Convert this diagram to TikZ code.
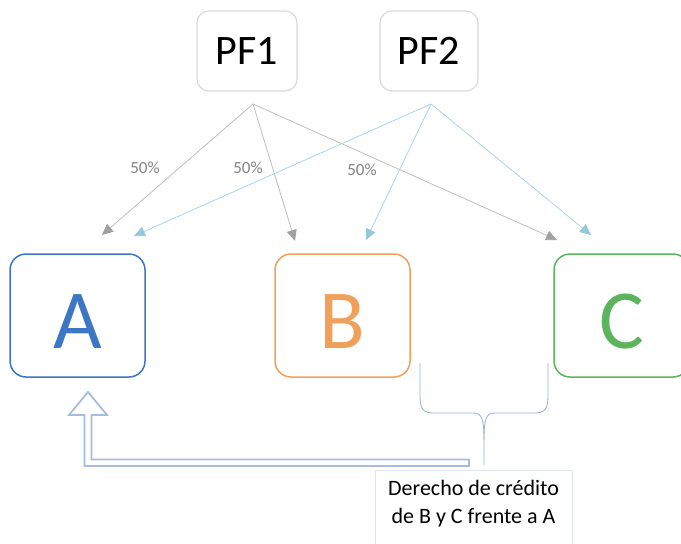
\documentclass[tikz,border=0pt]{standalone}
\usepackage{fontspec}
\setmainfont{Carlito}
\usetikzlibrary{arrows.meta}
\definecolor{boxgray}{RGB}{217,217,217}
\definecolor{linegray}{RGB}{190,190,190}
\definecolor{tipgray}{RGB}{160,160,160}
\definecolor{lineblue}{RGB}{172,212,230}
\definecolor{tipblue}{RGB}{150,200,220}
\definecolor{textgray}{RGB}{130,130,130}
\definecolor{boxA}{RGB}{60,118,196}
\definecolor{boxB}{RGB}{240,160,90}
\definecolor{boxC}{RGB}{92,180,92}
\definecolor{braceblue}{RGB}{150,175,215}
\definecolor{hollowblue}{RGB}{168,188,222}
\definecolor{notegray}{RGB}{225,230,238}
\begin{document}
\begin{tikzpicture}[x=1pt, y=-1pt,
   pfbox/.style={draw=boxgray, line width=1.2pt, rounded corners=12pt,
      minimum width=100pt, minimum height=80pt, font=\fontsize{42}{42}\selectfont},
   letterbox/.style={draw, line width=1.5pt, rounded corners=16pt,
      minimum width=135pt, minimum height=123pt, text height=66pt, text depth=0pt,
      font=\fontsize{84}{84}\selectfont},
   grayarrow/.style={draw=linegray, line width=0.8pt,
      -{Triangle[length=11pt, width=10pt, color=tipgray]}},
   bluearrow/.style={draw=lineblue, line width=0.8pt,
      -{Triangle[length=11pt, width=10pt, color=tipblue]}},
   pct/.style={text=textgray, font=\fontsize{17}{17}\selectfont}]
   \useasboundingbox (0,0) rectangle (681,544);
   \def\by{315.5};   % centre line of A, B, C
   \node[pfbox] (pf1) at (247,51) {PF1};
   \node[pfbox, minimum width=98pt] (pf2) at (429,51) {PF2};
   \node[letterbox, draw=boxA, text=boxA] (A) at (77.5,\by) {A};
   \node[letterbox, draw=boxB, text=boxB] (B) at (342.5,\by) {B};
   \node[letterbox, draw=boxC, text=boxC] (C) at (621.5,\by) {C};
   \coordinate (pf1out) at (253,104);
   \coordinate (pf2out) at (431,104);
   \coordinate (a1) at (102,235);   % gray tips
   \coordinate (b1) at (295,241);
   \coordinate (c1) at (557,240);
   \coordinate (a2) at (134,236);   % blue tips
   \coordinate (b2) at (366,240);
   \coordinate (c2) at (591,235);
   \draw[grayarrow] (pf1out) -- (a1);
   \draw[grayarrow] (pf1out) -- (b1);
   \draw[grayarrow] (pf1out) -- (c1);
   \draw[bluearrow] (pf2out) -- (a2);
   \draw[bluearrow] (pf2out) -- (b2);
   \draw[bluearrow] (pf2out) -- (c2);
   \node[pct] (l1) at (145,168) {50\%};
   \node[pct] (l2) at (248,168) {50\%};
   \node[pct] (l3) at (362,170) {50\%};
   % brace under B and C
   \draw[braceblue, line width=0.8pt] (420,363) -- (420,396) .. controls (420,410) and (424,413) .. (434,413)
      -- (474,413) .. controls (482,413) and (484,420) .. (484,440) -- (484,465);
   \draw[braceblue, line width=0.8pt] (548,363) -- (548,396) .. controls (548,410) and (544,413) .. (534,413)
      -- (494,413) .. controls (486,413) and (484,420) .. (484,440);
   % hollow arrow back to A
   \draw[hollowblue, line width=1.8pt, fill=white, line join=miter]
      (88,392) -- (107,415) -- (91.5,415) -- (91.5,459.5) -- (469,459.5) -- (469,466)
      -- (84.5,466) -- (84.5,415) -- (69,415) -- cycle;
   \draw[notegray, line width=0.8pt] (375,470) rectangle (572,560);
   \node[align=center, font=\fontsize{22}{28}\selectfont] (note) at (473.5,504)
      {Derecho de crédito\\de B y C frente a A};
\end{tikzpicture}
\end{document}
